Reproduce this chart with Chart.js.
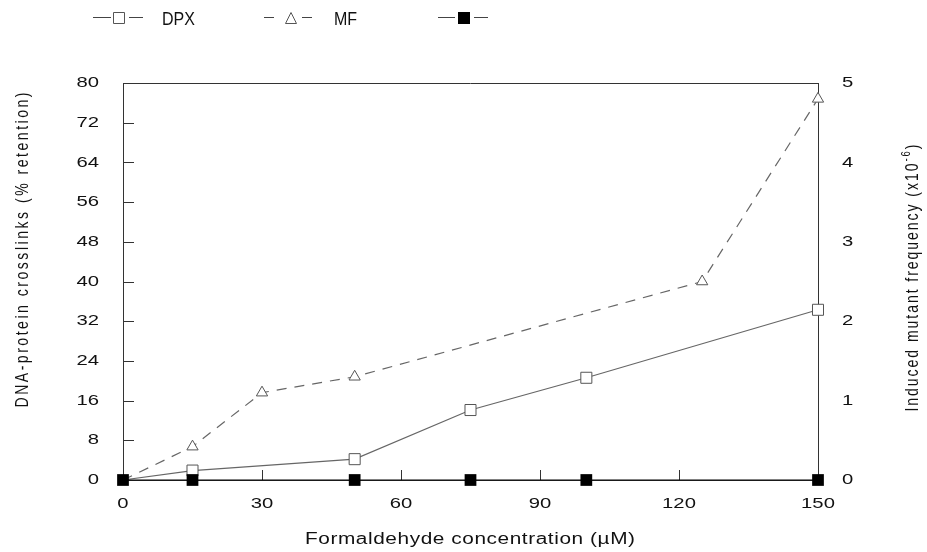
<!DOCTYPE html>
<html><head><meta charset="utf-8">
<script src="https://cdn.jsdelivr.net/npm/chart.js@4/dist/chart.umd.min.js"></script>
<style>html,body{margin:0;padding:0;background:#fff}#wrap{width:927px;height:552px;position:relative}</style>
</head><body><div id="wrap"><canvas id="c"></canvas></div>
<script>
// ---- data ----
const dpxConc = [0, 15, 50, 75, 100, 150];
const dpxValues = [0, 1.9, 4.2, 14.1, 20.6, 34.3];          // % retention (left axis)
const mfConc = [0, 15, 30, 50, 125, 150];
const mfValues = [0, 0.42, 1.1, 1.3, 2.5, 4.8];             // x10^-6 (right axis)
const controlConc = [0, 15, 50, 75, 100, 150];
const controlValues = [0, 0, 0, 0, 0, 0];
const seriesLabels = ['DPX', 'MF', ''];
const xTickStep = 30, xMin = 0, xMax = 150;
const leftTickStep = 8, leftMin = 0, leftMax = 80;
const rightTickStep = 1, rightMin = 0, rightMax = 5;
const xTitle = 'Formaldehyde concentration (\u00B5M)';
const leftTitle = 'DNA-protein crosslinks (% retention)';
const rightTitleMain = 'Induced mutant frequency (x10';
const rightTitleSup = '-6';
const rightTitleEnd = ')';

const FONT = '"Liberation Sans", Arial, Helvetica, sans-serif';
const toXY = (xs, ys) => xs.map((x, i) => ({x, y: ys[i]}));

// segments: [{text, size, dy}], sx = stretch along the text, sy = stretch across it;
// the run is spread evenly so that it spans `target` pixels.
function drawRich(ctx, segs, cx, cy, rot, target, sx, sy) {
  ctx.save();
  let w0 = 0, n = 0;
  segs.forEach(s => { ctx.font = s.size + 'px ' + FONT; w0 += ctx.measureText(s.text).width * sx; n += [...s.text].length; });
  const sp = Math.max(0, (target - w0) / (n - 1));
  ctx.translate(cx, cy);
  ctx.rotate(rot);
  ctx.fillStyle = '#111';
  ctx.textAlign = 'left';
  ctx.textBaseline = 'middle';
  let x = -target / 2;
  segs.forEach(s => {
    ctx.font = s.size + 'px ' + FONT;
    for (const ch of s.text) {
      ctx.save();
      ctx.translate(x, (s.dy || 0) * sy);
      ctx.scale(sx, sy);
      ctx.fillText(ch, 0, 0);
      ctx.restore();
      x += ctx.measureText(ch).width * sx + sp;
    }
  });
  ctx.restore();
}

let tickStretch = 1;
const framePlugin = {
  id: 'frame',
  beforeDraw(chart) {
    const ctx = chart.ctx;
    if (!ctx._plainFillText) {
      ctx._plainFillText = ctx.fillText;
      ctx.fillText = function (t, x, y, m) {
        if (tickStretch === 1) return m === undefined ? this._plainFillText(t, x, y) : this._plainFillText(t, x, y, m);
        this.save();
        this.translate(x, y);
        this.scale(tickStretch, 1);
        if (m === undefined) this._plainFillText(t, 0, 0); else this._plainFillText(t, 0, 0, m);
        this.restore();
      };
    }
    tickStretch = 1.35;
  },
  beforeDatasetsDraw(chart) {
    tickStretch = 1;
    const ctx = chart.ctx, a = chart.chartArea, xs = chart.scales.x, ys = chart.scales.y;
    ctx.save();
    ctx.strokeStyle = '#333'; ctx.lineWidth = 1;
    ctx.beginPath();
    ctx.moveTo(a.left, Math.round(a.top) + 0.5); ctx.lineTo(a.right, Math.round(a.top) + 0.5);
    ys.ticks.forEach(t => {
      const y = Math.round(ys.getPixelForValue(t.value)) + 0.5;
      ctx.moveTo(a.left, y); ctx.lineTo(a.left + 11, y);
    });
    xs.ticks.forEach(t => {
      const x = Math.round(xs.getPixelForValue(t.value)) + 0.5;
      ctx.moveTo(x, a.bottom); ctx.lineTo(x, a.bottom - 10);
    });
    ctx.stroke();
    ctx.restore();
  },
  afterDraw(chart) {
    tickStretch = 1;
    const ctx = chart.ctx;
    drawRich(ctx, [{text: leftTitle, size: 14}], 23, 250, -Math.PI / 2, 315, 1, 1.35);
    drawRich(ctx, [{text: rightTitleMain, size: 14}, {text: rightTitleSup, size: 9.5, dy: -5}, {text: rightTitleEnd, size: 14}], 913, 278, -Math.PI / 2, 267, 1, 1.35);
    drawRich(ctx, [{text: xTitle, size: 16}], 470, 540, 0, 330, 1.3, 1);
    // legend
    ctx.save();
    ctx.strokeStyle = '#444'; ctx.lineWidth = 1;
    const ly = 17.5;
    ctx.beginPath();
    ctx.moveTo(93, ly); ctx.lineTo(111, ly);
    ctx.moveTo(129, ly); ctx.lineTo(143, ly);
    ctx.moveTo(264, ly); ctx.lineTo(274, ly);
    ctx.moveTo(302, ly); ctx.lineTo(312, ly);
    ctx.moveTo(438, ly); ctx.lineTo(455, ly);
    ctx.moveTo(474, ly); ctx.lineTo(488, ly);
    ctx.stroke();
    ctx.strokeStyle = '#555';
    ctx.fillStyle = '#fff';
    ctx.beginPath(); ctx.rect(113.5, 12.5, 11, 11); ctx.fill(); ctx.stroke();
    ctx.beginPath(); ctx.moveTo(291, 12.5); ctx.lineTo(296.5, 23.5); ctx.lineTo(285.5, 23.5); ctx.closePath(); ctx.fill(); ctx.stroke();
    ctx.fillStyle = '#000';
    ctx.fillRect(458, 12, 12, 12);
    ctx.font = '16px ' + FONT;
    ctx.fillStyle = '#111';
    ctx.textBaseline = 'middle';
    ctx.save(); ctx.translate(162, 20); ctx.scale(1, 1.1); ctx.fillText(seriesLabels[0], 0, 0); ctx.restore();
    ctx.save(); ctx.translate(334, 20); ctx.scale(1, 1.1); ctx.fillText(seriesLabels[1], 0, 0); ctx.restore();
    ctx.restore();
  }
};

const tickFont = {family: FONT, size: 15};
const gridOff = {display: false, drawTicks: false, tickLength: 0};
new Chart(document.getElementById('c'), {
  type: 'line',
  data: {
    datasets: [
      {
        label: seriesLabels[2], data: toXY(controlConc, controlValues), yAxisID: 'y', order: 0,
        borderColor: '#000', borderWidth: 1, pointStyle: 'rect', pointRadius: 8.3,
        pointBackgroundColor: '#000', pointBorderColor: '#000', pointBorderWidth: 0, clip: false
      },
      {
        label: seriesLabels[0], data: toXY(dpxConc, dpxValues), yAxisID: 'y', order: 1,
        borderColor: '#666', borderWidth: 1.2, pointStyle: 'rect',
        pointRadius: c => (c.raw && c.raw.x === 0 ? 0 : 7.8),
        pointBackgroundColor: '#fff', pointBorderColor: '#555', pointBorderWidth: 1, clip: false
      },
      {
        label: seriesLabels[1], data: toXY(mfConc, mfValues), yAxisID: 'y1', order: 2,
        borderColor: '#666', borderWidth: 1.2, borderDash: [10, 8], pointStyle: 'triangle',
        pointRadius: c => (c.raw && c.raw.x === 0 ? 0 : 6.5),
        pointBackgroundColor: '#fff', pointBorderColor: '#555', pointBorderWidth: 1, clip: false
      }
    ]
  },
  options: {
    responsive: true, maintainAspectRatio: false, animation: false,
    layout: {padding: {top: 83, left: 0, right: 0, bottom: 0}},
    plugins: {legend: {display: false}, tooltip: {enabled: false}},
    scales: {
      x: {
        type: 'linear', min: xMin, max: xMax,
        ticks: {stepSize: xTickStep, font: tickFont, color: '#111', padding: 15},
        grid: gridOff, border: {display: true, color: '#333', width: 1},
        afterFit(s) { s.height = 72; }
      },
      y: {
        position: 'left', min: leftMin, max: leftMax,
        ticks: {stepSize: leftTickStep, font: tickFont, color: '#111', padding: 24},
        grid: gridOff, border: {display: true, color: '#333', width: 1},
        afterFit(s) { s.width = 123; }
      },
      y1: {
        position: 'right', min: rightMin, max: rightMax,
        ticks: {stepSize: rightTickStep, font: tickFont, color: '#111', padding: 24},
        grid: gridOff, border: {display: true, color: '#333', width: 1},
        afterFit(s) { s.width = 109; }
      }
    }
  },
  plugins: [framePlugin]
});
</script>
</body></html>
